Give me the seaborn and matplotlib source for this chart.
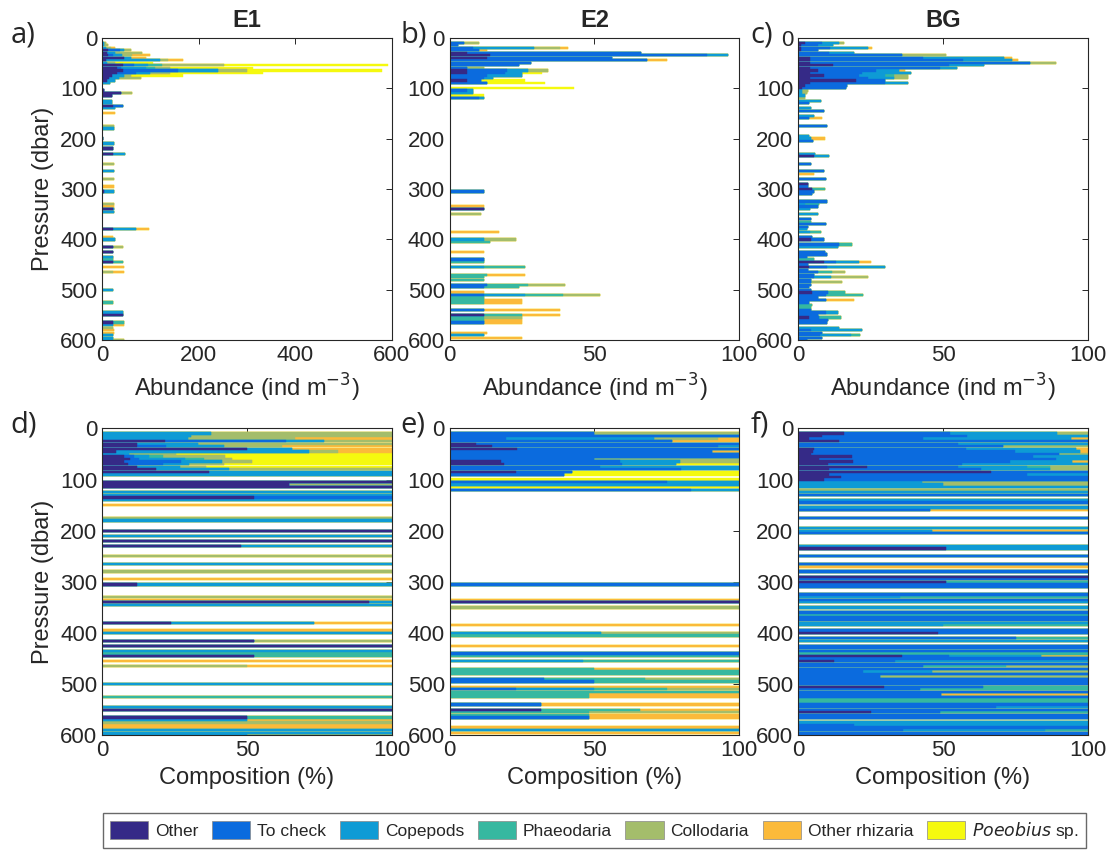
import numpy as np
import pandas as pd
import matplotlib
matplotlib.use("Agg")
import matplotlib.pyplot as plt
from matplotlib.patches import Patch
import seaborn as sns

CATEGORIES = ["Other", "To check", "Copepods", "Phaeodaria", "Collodaria", "Other rhizaria", "Poeobius"]
LEGEND_LABELS = ["Other", "To check", "Copepods", "Phaeodaria", "Collodaria", "Other rhizaria", r"$\it{Poeobius}$ sp."]
COLORS = ["#352a87", "#0b6bde", "#0e9bd5", "#36b8a0", "#a4bd6b", "#fbba3a", "#f5f90f"]
STATIONS = ["E1", "E2", "BG"]
XMAX = {"E1": 600, "E2": 100, "BG": 100}
XTICKS = {"E1": [0, 200, 400, 600], "E2": [0, 50, 100], "BG": [0, 50, 100]}

# abundance (ind m-3) per 5 dbar bin: depth, Other, To check, Copepods, Phaeodaria, Collodaria, Other rhizaria, Poeobius
E1_ROWS = [
    (10, 0, 0, 3, 0, 5, 0, 0), (15, 0, 0, 4, 0, 9, 0, 0), (20, 0, 0, 8, 0, 10, 9, 0),
    (25, 13, 25, 8, 0, 14, 0, 0), (30, 10, 0, 17, 0, 55, 0, 0), (35, 12, 10, 20, 0, 20, 38, 0),
    (40, 45, 0, 14, 0, 0, 31, 0), (45, 8, 0, 112, 0, 17, 31, 0), (50, 0, 0, 10, 0, 17, 0, 79),
    (55, 44, 21, 31, 28, 128, 0, 340), (60, 30, 10, 50, 20, 30, 0, 173), (65, 44, 114, 83, 0, 59, 0, 280),
    (70, 30, 40, 30, 0, 40, 0, 194), (75, 20, 0, 25, 0, 15, 0, 107), (80, 15, 0, 20, 0, 45, 0, 0),
    (85, 10, 0, 17, 0, 0, 0, 0), (90, 0, 0, 17, 0, 0, 0, 0), (105, 3, 0, 0, 0, 0, 0, 0),
    (110, 40, 0, 0, 0, 22, 0, 0), (115, 20, 0, 0, 0, 0, 0, 0), (125, 0, 0, 20, 0, 0, 0, 0),
    (130, 0, 0, 20, 0, 0, 0, 0), (135, 23, 21, 0, 0, 0, 0, 0), (140, 0, 0, 27, 0, 0, 0, 0),
    (150, 0, 0, 0, 0, 0, 27, 0), (175, 0, 0, 0, 0, 25, 0, 0), (180, 0, 0, 25, 0, 0, 0, 0),
    (200, 2, 0, 0, 0, 0, 0, 0), (210, 0, 0, 25, 0, 0, 0, 0), (220, 23, 0, 0, 0, 0, 0, 0),
    (230, 23, 0, 25, 0, 0, 0, 0), (250, 0, 0, 0, 0, 25, 0, 0), (265, 0, 0, 25, 0, 0, 0, 0),
    (280, 0, 0, 0, 0, 25, 0, 0), (295, 0, 0, 0, 0, 0, 25, 0), (305, 3, 0, 22, 0, 0, 0, 0),
    (330, 0, 0, 0, 0, 25, 0, 0), (335, 0, 0, 0, 0, 0, 25, 0), (340, 23, 0, 2, 0, 0, 0, 0),
    (345, 0, 0, 25, 0, 0, 0, 0), (380, 23, 0, 48, 0, 0, 26, 0), (395, 0, 0, 0, 0, 0, 23, 0),
    (400, 0, 0, 27, 0, 0, 0, 0), (415, 23, 0, 0, 0, 21, 0, 0), (425, 23, 0, 0, 0, 0, 0, 0),
    (435, 0, 0, 23, 0, 0, 0, 0), (440, 0, 0, 0, 23, 0, 0, 0), (445, 23, 0, 0, 21, 0, 0, 0),
    (455, 0, 0, 0, 0, 0, 46, 0), (465, 0, 0, 0, 0, 23, 23, 0), (500, 0, 0, 23, 0, 0, 0, 0),
    (525, 0, 0, 0, 23, 0, 0, 0), (545, 0, 0, 44, 0, 0, 0, 0), (550, 44, 0, 0, 0, 0, 0, 0),
    (565, 23, 0, 0, 23, 0, 0, 0), (570, 0, 0, 23, 0, 0, 23, 0), (575, 0, 0, 0, 0, 23, 0, 0),
    (580, 0, 0, 0, 0, 0, 25, 0), (585, 0, 0, 0, 0, 0, 25, 0), (590, 0, 0, 23, 0, 0, 0, 0),
    (595, 0, 0, 23, 0, 0, 0, 0), (600, 0, 0, 23, 0, 23, 0, 0),
]

E2_ROWS = [
    (10, 0, 5, 0, 0, 5, 0, 0), (15, 0, 3, 0, 0, 0, 0, 0), (20, 0, 8, 21, 0, 9, 3, 0),
    (25, 0, 10, 0, 0, 0, 3, 0), (30, 6, 60, 0, 0, 0, 0, 0), (35, 14, 75, 7, 0, 0, 0, 0),
    (40, 13, 43, 0, 0, 0, 0, 0), (45, 0, 68, 0, 0, 0, 7, 0), (50, 0, 28, 0, 0, 0, 0, 0),
    (55, 0, 24, 0, 0, 0, 0, 0), (60, 0, 6, 0, 0, 6, 0, 0), (65, 6, 14, 7, 0, 7, 0, 0),
    (70, 6, 13, 6, 0, 0, 0, 7), (75, 0, 13, 12, 0, 0, 0, 0), (80, 0, 12, 3, 0, 0, 0, 0),
    (85, 6, 5, 0, 0, 0, 0, 15), (90, 0, 13, 0, 0, 0, 0, 20), (100, 0, 0, 0, 0, 0, 0, 43),
    (105, 0, 6, 2, 0, 0, 0, 0), (110, 0, 0, 8, 0, 0, 0, 0), (115, 0, 0, 0, 0, 0, 0, 12),
    (120, 0, 10, 2, 0, 0, 0, 0), (305, 0, 12, 0, 0, 0, 0, 0), (335, 0, 0, 0, 0, 0, 12, 0),
    (340, 12, 0, 0, 0, 0, 0, 0), (350, 0, 0, 0, 0, 11, 0, 0), (385, 0, 0, 0, 0, 0, 17, 0),
    (400, 0, 0, 12, 0, 11, 0, 0), (405, 0, 0, 0, 14, 0, 0, 0), (425, 0, 0, 0, 0, 0, 12, 0),
    (440, 0, 12, 0, 0, 0, 0, 0), (445, 0, 0, 0, 12, 0, 0, 0), (455, 0, 0, 12, 14, 0, 0, 0),
    (470, 0, 0, 0, 13, 0, 13, 0), (475, 0, 0, 0, 12, 0, 0, 0), (480, 0, 0, 0, 12, 0, 0, 0),
    (490, 0, 13, 0, 14, 13, 0, 0), (495, 0, 12, 0, 12, 0, 0, 0), (505, 0, 0, 0, 0, 0, 12, 0),
    (510, 0, 12, 14, 13, 13, 0, 0), (515, 0, 0, 0, 12, 0, 0, 0), (520, 0, 0, 0, 12, 0, 13, 0),
    (525, 0, 0, 0, 12, 0, 13, 0), (540, 0, 12, 0, 0, 0, 26, 0), (550, 12, 0, 0, 13, 0, 13, 0),
    (555, 0, 0, 0, 12, 13, 0, 0), (560, 0, 0, 0, 12, 0, 13, 0), (565, 0, 12, 0, 0, 0, 13, 0),
    (585, 0, 0, 0, 0, 0, 13, 0), (590, 0, 0, 12, 0, 0, 0, 0), (595, 0, 0, 0, 0, 0, 25, 0),
]

BG_ROWS = [
    (10, 2.5, 5.8, 5.8, 0, 1.7, 0, 0), (15, 1, 6, 5, 0, 0, 0, 0), (20, 1, 10, 13, 0, 0, 1.5, 0),
    (25, 1, 6, 0, 0, 0, 0, 0), (30, 0, 10.6, 8.6, 0, 0, 0, 0), (35, 0, 36, 0, 0, 15, 0, 0),
    (40, 4, 39, 28, 0, 0, 3, 0), (45, 4, 53, 17, 0, 0, 2, 0), (50, 4, 76, 0, 0, 9, 0, 0),
    (55, 12, 40, 12, 0, 0, 0, 0), (60, 4, 45, 6, 0, 0, 0, 0), (65, 7, 20, 8, 0, 0, 2, 0),
    (70, 4, 18, 17, 0, 0, 0, 0), (75, 9, 12, 9, 3, 5, 0, 0), (80, 4, 20, 9, 0, 5, 0, 0),
    (85, 20, 10, 0, 0, 0, 0, 0), (90, 4, 26, 8, 0, 0, 0, 0), (95, 2.5, 14.5, 0, 0, 0, 0, 0),
    (100, 1.5, 15, 0, 0, 0, 0, 0), (105, 0, 0, 1.5, 0, 2, 0, 0), (110, 0, 0, 1.5, 0, 1.5, 0, 0),
    (115, 0, 0, 2.5, 0, 0, 0, 0), (120, 0, 0, 0, 0, 2.5, 0, 0), (125, 0, 0, 8, 0, 0, 0, 0),
    (130, 0, 3.7, 0, 0, 0, 0, 0), (140, 0, 0, 4.3, 0, 0, 0, 0), (145, 0, 9, 0, 0, 0, 0, 0),
    (155, 0, 0, 5.4, 0, 0, 0, 0), (160, 0, 3.7, 0, 0, 0, 4.4, 0), (175, 0, 10, 0, 0, 0, 0, 0),
    (195, 0, 0, 3.7, 0, 0, 0, 0), (200, 0, 0, 4.3, 0, 0, 5, 0), (205, 0, 5, 0, 0, 0, 0, 0),
    (230, 0, 0, 6, 0, 0, 0, 0), (235, 5.4, 0, 5.2, 0, 0, 0, 0), (250, 0, 4.6, 0, 0, 0, 0, 0),
    (265, 0, 9, 0, 0, 0, 0, 0), (270, 0, 0, 0, 0, 0, 5.4, 0), (280, 0, 9.5, 0, 0, 0, 0, 0),
    (290, 3.5, 0, 0, 0, 0, 0, 0), (295, 0, 3.5, 0, 0, 0, 0, 0), (300, 4.8, 0, 0, 4.6, 0, 0, 0),
    (305, 0, 5.4, 0, 0, 0, 0, 0), (310, 0, 4.8, 0, 0, 0, 0, 0), (325, 0, 10, 0, 0, 0, 0, 0),
    (330, 0, 0, 2.5, 4.6, 0, 0, 0), (335, 0, 7, 0, 0, 0, 0, 0), (340, 0, 0, 4, 0, 0, 0, 0),
    (350, 0, 0, 7, 0, 0, 0, 0), (360, 0, 4.6, 0, 0, 0, 0, 0), (365, 0, 0, 0, 4.6, 0, 0, 0),
    (370, 0, 9.7, 0, 0, 0, 0, 0), (375, 0, 3.5, 0, 0, 0, 0, 0), (380, 0, 0, 3, 0, 0, 0, 0),
    (385, 0, 0, 4, 4, 0, 0, 0), (395, 0, 4.8, 0, 0, 0, 0, 0), (400, 4.3, 4.6, 0, 0, 0, 0, 0),
    (410, 0, 14, 0, 4.6, 0, 0, 0), (415, 0, 0, 13.8, 0, 0, 0, 0), (425, 0, 9.2, 0, 0, 0, 0, 0),
    (430, 0, 10, 0, 0, 0, 0, 0), (435, 0, 3, 0, 0, 0, 0, 0), (440, 0, 0, 0, 5.4, 0, 0, 0),
    (445, 9, 4, 8, 0, 0, 4, 0), (450, 0, 3.5, 0, 0, 0, 0, 0), (455, 3.7, 6.3, 20, 0, 0, 0, 0),
    (460, 0, 3.5, 0, 0, 0, 0, 0), (465, 0, 7, 0, 4.6, 4.6, 0, 0), (470, 0, 5.4, 0, 0, 0, 0, 0),
    (475, 0, 5.4, 5.8, 0, 13, 0, 0), (480, 0, 4.3, 0, 0, 0, 0, 0), (485, 0, 4.3, 0, 0, 11, 0, 0),
    (490, 0, 4.3, 0, 0, 0, 0, 0), (495, 0, 3.7, 0, 0, 0, 0, 0), (500, 0, 4.6, 0, 0, 0, 0, 0),
    (505, 4.8, 5.5, 0, 5.8, 0, 0, 0), (510, 0, 9.5, 0, 13, 0, 0, 0), (515, 0, 7, 0, 0, 0, 0, 0),
    (520, 0, 9.5, 0, 0, 0, 9.8, 0), (525, 0, 3.7, 0, 0, 0, 0, 0), (530, 0, 0, 0, 4.8, 0, 0, 0),
    (535, 0, 0, 0, 4.3, 0, 0, 0), (540, 0, 4.3, 0, 0, 0, 0, 0), (545, 0, 9.5, 4.4, 0, 0, 0, 0),
    (550, 0, 7, 0, 0, 0, 0, 0), (555, 3.7, 3.5, 0, 7.5, 0, 0, 0), (560, 0, 10.4, 0, 0, 0, 0, 0),
    (565, 0, 10, 0, 0, 0, 0, 0), (575, 0, 0, 14, 0, 0, 0, 0), (580, 0, 4.3, 17.9, 0, 0, 0, 0),
    (585, 0, 8.3, 0, 0, 0, 0, 0), (590, 0, 7.7, 10.4, 3.1, 0, 0, 0), (595, 0, 8.3, 0, 0, 0, 0, 0),
    (600, 0, 3, 0, 0, 0, 0, 0),
]

DATA = {"E1": E1_ROWS, "E2": E2_ROWS, "BG": BG_ROWS}

sns.set_theme(style="white")
plt.rcParams["font.family"] = ["Liberation Sans", "DejaVu Sans"]
plt.rcParams["xtick.direction"] = "in"
plt.rcParams["ytick.direction"] = "in"
plt.rcParams["axes.edgecolor"] = "#262626"
plt.rcParams["axes.linewidth"] = 0.8


def draw_stacked(ax, df):
    cum = df[CATEGORIES].cumsum(axis=1)
    # draw totals first, then overlay shorter cumulative sums to get stacking
    for i in reversed(range(len(CATEGORIES))):
        sns.barplot(x=cum[CATEGORIES[i]], y=df["depth"], orient="h", native_scale=True,
                    color=COLORS[i], saturation=1, width=0.9, errorbar=None,
                    edgecolor=COLORS[i], linewidth=0.3, ax=ax)
    ax.axvline(0, color=COLORS[-1], lw=1.2, ls=(0, (1, 1.5)), zorder=0.5)


def style_axis(ax, xmax, xticks, xlabel, show_ylabel):
    ax.set_ylim(600, 0)
    ax.set_xlim(0, xmax)
    ax.set_yticks(range(0, 601, 100))
    ax.set_xticks(xticks)
    ax.tick_params(axis="both", labelsize=16, length=4, width=0.7, colors="#262626",
                   top=True, right=True, labelcolor="#262626")
    ax.set_xlabel(xlabel, fontsize=17, color="#262626")
    ax.set_ylabel("Pressure (dbar)" if show_ylabel else "", fontsize=17, color="#262626")
    for s in ax.spines.values():
        s.set_visible(True)


fig = plt.figure(figsize=(11.1, 8.55), dpi=100)
lefts = [0.092, 0.405, 0.719]
w = 0.261
top_axes = [fig.add_axes([l, 0.602, w, 0.354]) for l in lefts]
bot_axes = [fig.add_axes([l, 0.140, w, 0.359]) for l in lefts]
letters_top = ["a)", "b)", "c)"]
letters_bot = ["d)", "e)", "f)"]
letter_x = [-0.315, -0.17, -0.165]

for i, st in enumerate(STATIONS):
    df = pd.DataFrame(DATA[st], columns=["depth"] + CATEGORIES)
    ax = top_axes[i]
    draw_stacked(ax, df)
    style_axis(ax, XMAX[st], XTICKS[st], r"Abundance (ind m$^{-3}$)", i == 0)
    ax.set_title(st, fontsize=17, fontweight="bold", pad=8)
    ax.text(letter_x[i], 1.01, letters_top[i], transform=ax.transAxes, fontsize=21,
            family="Open Sans", va="center", ha="left")

    comp = df.copy()
    total = df[CATEGORIES].sum(axis=1)
    comp[CATEGORIES] = df[CATEGORIES].div(total, axis=0) * 100
    ax = bot_axes[i]
    draw_stacked(ax, comp)
    style_axis(ax, 100, [0, 50, 100], "Composition (%)", i == 0)
    ax.text(letter_x[i], 1.01, letters_bot[i], transform=ax.transAxes, fontsize=21,
            family="Open Sans", va="center", ha="left")

handles = [Patch(facecolor=c, edgecolor="#888888", linewidth=0.5) for c in COLORS]
fig.legend(handles, LEGEND_LABELS, loc="lower left", ncol=7, mode="expand",
           bbox_to_anchor=(0.093, 0.008, 0.885, 0.045), frameon=True, fancybox=False,
           edgecolor="#444444", fontsize=12.5, handlelength=2.2, handleheight=1.2,
           handletextpad=0.4, columnspacing=0.8, borderaxespad=0)

fig.savefig("out.png", dpi=100)
